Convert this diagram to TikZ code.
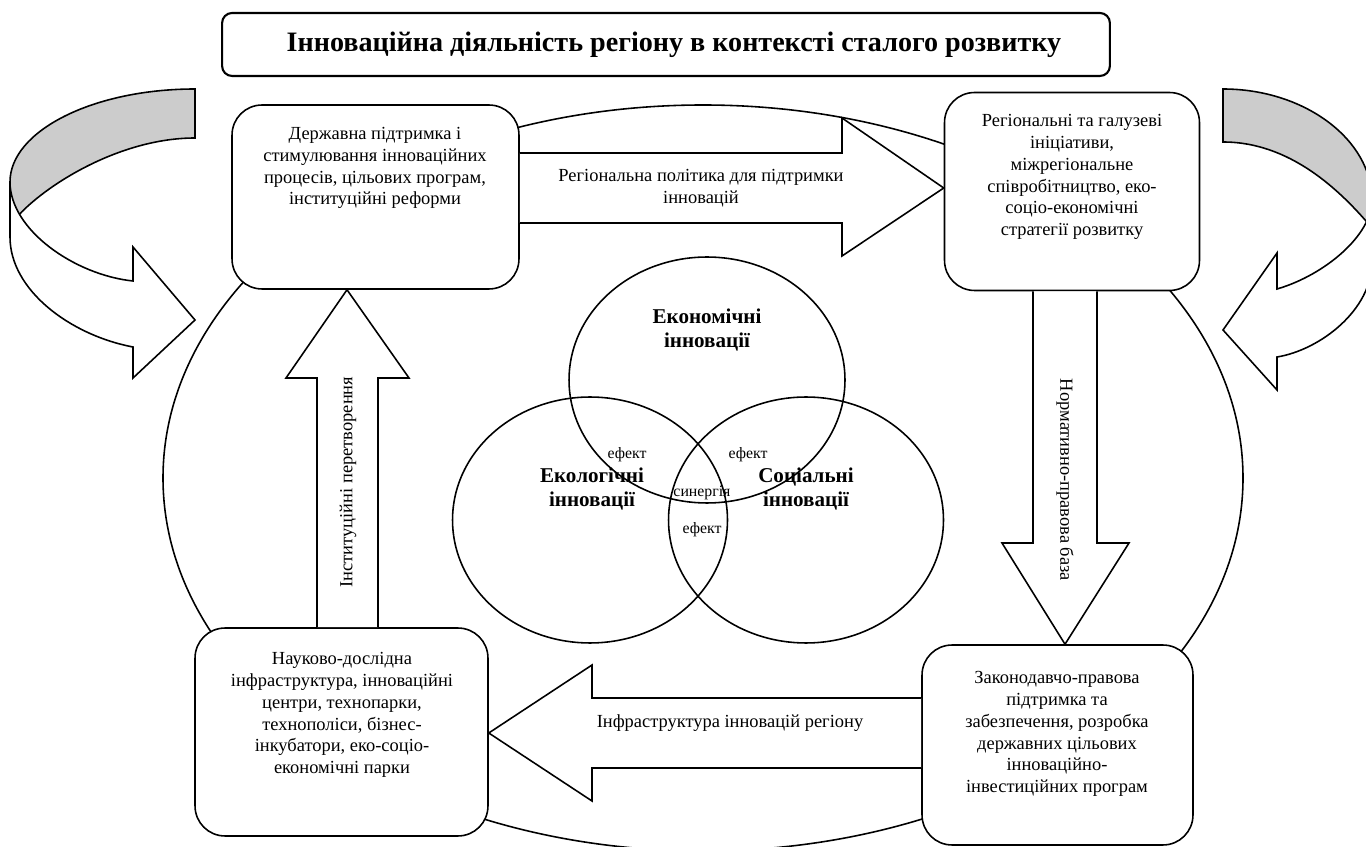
\documentclass[tikz,border=0pt]{standalone}
\usepackage{fontspec}
\setmainfont{Liberation Serif}
\usepackage{tikz}
\usetikzlibrary{positioning,shapes.geometric}

\definecolor{bandgray}{RGB}{204,204,204}

\begin{document}
\begin{tikzpicture}[
				x=0.02cm, y=-0.02cm,
				line width=0.9pt,
				roundbox/.style={rectangle, rounded corners=0.6cm, draw=black, fill=white},
				boxtext/.style={align=center, inner sep=0pt, font=\fontsize{10.5}{12.4}\selectfont},
				venn/.style={ellipse, draw=black, inner sep=0pt},
				venntext/.style={align=center, inner sep=0pt, font=\fontsize{12}{14}\selectfont\bfseries},
				effecttext/.style={inner sep=0pt, font=\fontsize{9}{10}\selectfont},
				blockarrow/.style={draw=black, fill=white, line join=miter},
				band/.style={draw=black, fill=bandgray, line join=miter}
			]

			\useasboundingbox (0,0) rectangle (1366,847);

			\draw (703,478) ellipse [x radius=540, y radius=373];

			\draw[band] (195,89) .. controls (93,89) and (10,131) .. (10,182) -- (10,218) -- (16,218) .. controls (45,185) and (120,138) .. (195,138) -- cycle;
			\draw[blockarrow] (10,182) -- (10,237) .. controls (10,290) and (70,335) .. (133,347) -- (133,378) -- (195,320) -- (133,247) -- (133,281) .. controls (75,275) and (10,230) .. (10,182) -- cycle;

			\draw[band] (1223,89) .. controls (1305,89) and (1372,140) .. (1372,200) -- (1372,228) .. controls (1340,190) and (1290,142) .. (1223,142) -- cycle;
			\draw[blockarrow] (1372,200) -- (1372,262) .. controls (1372,310) and (1320,350) .. (1277,357) -- (1277,390) -- (1223,330) -- (1277,253) -- (1277,289) .. controls (1325,275) and (1372,235) .. (1372,200) -- cycle;

			\node[roundbox, rounded corners=0.2cm, line width=1.2pt, minimum width=17.76cm, minimum height=1.26cm, font=\fontsize{16}{19}\selectfont\bfseries] (title) at (666,44.5) {\hspace*{0.32cm}Інноваційна діяльність регіону в контексті сталого розвитку};

			\node[roundbox, minimum width=5.74cm, minimum height=3.68cm] (support) at (375.5,197) {};
			\node[roundbox, minimum width=5.1cm, minimum height=3.96cm] (initiatives) at (1072,191.5) {};
			\node[roundbox, minimum width=5.86cm, minimum height=4.16cm] (research) at (341.5,732) {};
			\node[roundbox, minimum width=5.42cm, minimum height=4.0cm] (legal) at (1057.5,745) {};

			\draw[blockarrow] (support.east |- 0,153) -- (842,153) -- (842,118) -- (initiatives.west |- 0,188) -- (842,256) -- (842,223) -- (support.east |- 0,223);
			\draw[blockarrow] (1033,0 |- initiatives.south) -- (1033,543) -- (1002,543) -- (1065,0 |- legal.north) -- (1129,543) -- (1097,543) -- (1097,0 |- initiatives.south);
			\draw[blockarrow] (legal.west |- 0,698) -- (592,698) -- (592,665) -- (research.east |- 0,733) -- (592,801) -- (592,768) -- (legal.west |- 0,768);
			\draw[blockarrow] (317,0 |- research.north) -- (317,378) -- (286,378) -- (347,0 |- support.south) -- (409,378) -- (378,378) -- (378,0 |- research.north);

			\node[boxtext] (supportText) at (375,168) {Державна підтримка і\\стимулювання інноваційних\\процесів, цільових програм,\\інституційні реформи};
			\node[boxtext] (initiativesText) at (1072,177) {Регіональні та галузеві\\ініціативи,\\міжрегіональне\\співробітництво, еко-\\соціо-економічні\\стратегії розвитку};
			\node[boxtext] (researchText) at (342,715) {Науково-дослідна\\інфраструктура, інноваційні\\центри, технопарки,\\технополіси, бізнес-\\інкубатори, еко-соціо-\\економічні парки};
			\node[boxtext] (legalText) at (1057,734) {Законодавчо-правова\\підтримка та\\забезпечення, розробка\\державних цільових\\інноваційно-\\інвестиційних програм};

			\node[boxtext] (policyText) at (701,188) {Регіональна політика для підтримки\\інновацій};
			\node[boxtext, rotate=-90] (normText) at (1065,480) {Нормативно-правова база};
			\node[boxtext] (infraText) at (730,723) {Інфраструктура інновацій регіону};
			\node[boxtext, rotate=90] (reformText) at (348,482) {Інституційні перетворення};

			\node[venn, minimum width=5.52cm, minimum height=4.92cm] (econ) at (707,380) {};
			\node[venn, minimum width=5.5cm, minimum height=4.92cm] (ecol) at (590,520) {};
			\node[venn, minimum width=5.5cm, minimum height=4.92cm] (social) at (806,520) {};

			\node[venntext] (econText) at (707,330) {Економічні\\інновації};
			\node[venntext] (ecolText) at (592,489) {Екологічні\\інновації};
			\node[venntext] (socialText) at (806,489) {Соціальні\\інновації};

			\node[effecttext] (effectLeft) at (627,455) {ефект};
			\node[effecttext] (effectRight) at (748,455) {ефект};
			\node[effecttext] (synergy) at (702,493) {синергія};
			\node[effecttext] (effectLow) at (702,530) {ефект};

		\end{tikzpicture}
\end{document}
